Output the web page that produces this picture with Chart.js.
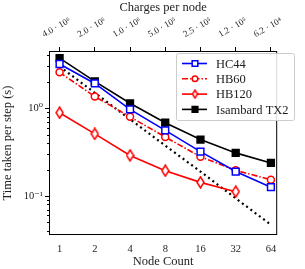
<!DOCTYPE html>
<html>
<head>
<script src="https://cdn.jsdelivr.net/npm/chart.js@4.4.1/dist/chart.umd.min.js"></script>
<style>
  html, body { margin: 0; padding: 0; background: #fff; }
  #wrap { width: 305px; height: 269px; }
</style>
</head>
<body>
<div id="wrap"><canvas id="chart" width="305" height="269"></canvas></div>
<script>
// node counts and top-axis labels
var nodes = [1, 2, 4, 8, 16, 32, 64];
var charges = ["4.0 \u00b7 10\u2076", "2.0 \u00b7 10\u2076", "1.0 \u00b7 10\u2076", "5.0 \u00b7 10\u2075",
               "2.5 \u00b7 10\u2075", "1.2 \u00b7 10\u2075", "6.2 \u00b7 10\u2074"];

// time per step (s)
var hc44     = [3.2, 1.92, 0.97, 0.56, 0.32, 0.19, 0.126];
var hb60     = [2.57, 1.36, 0.80, 0.47, 0.28, 0.196, 0.153];
var hb120    = [0.89, 0.51, 0.29, 0.194, 0.143, 0.112];
var isambard = [3.73, 2.03, 1.14, 0.685, 0.44, 0.31, 0.238];
var ideal    = [3.0, 1.5, 0.75, 0.375, 0.19, 0.094, 0.047];

var serif = "'Liberation Serif', 'DejaVu Serif', serif";

function pts(arr) {
  return arr.map(function (v, i) { return { x: nodes[i], y: v }; });
}

// thin diamond marker
function makeDiamond(w, h) {
  var cv = document.createElement('canvas');
  cv.width = w; cv.height = h;
  var c = cv.getContext('2d');
  c.beginPath();
  c.moveTo(w / 2, 1); c.lineTo(w - 1, h / 2); c.lineTo(w / 2, h - 1); c.lineTo(1, h / 2); c.closePath();
  c.fillStyle = '#fff'; c.fill();
  c.lineWidth = 1.5; c.strokeStyle = '#ff0000'; c.stroke();
  return cv;
}
var diamond = makeDiamond(9, 13);
var diamondSmall = makeDiamond(7, 10);

var series = [
  { label: 'HC44', data: pts(hc44), borderColor: '#0000ff', pointStyle: 'rect', pointRadius: 4.8, legR: 4, dash: [] },
  { label: 'HB60', data: pts(hb60), borderColor: '#ff0000', pointStyle: 'circle', pointRadius: 3.5, legR: 2.8, dash: [6, 2, 1.5, 2] },
  { label: 'HB120', data: pts(hb120), borderColor: '#ff0000', pointStyle: diamond, pointRadius: 4, legR: 3, legStyle: diamondSmall, dash: [] },
  { label: 'Isambard TX2', data: pts(isambard), borderColor: '#000000', pointStyle: 'rect', pointRadius: 4.8, legR: 4, dash: [], fill: '#000' }
];

var datasets = series.map(function (s) {
  return {
    label: s.label, data: s.data,
    borderColor: s.borderColor, borderWidth: 1.6, borderDash: s.dash,
    pointStyle: s.pointStyle, pointRadius: s.pointRadius, pointBorderWidth: 1.5,
    pointBackgroundColor: s.fill || '#ffffff', pointBorderColor: s.borderColor,
    tension: 0
  };
});
datasets.push({
  label: 'ideal', data: pts(ideal), borderColor: '#000', borderWidth: 2.2,
  borderDash: [2, 3.3], pointRadius: 0, tension: 0
});

var frame = {
  id: 'frame',
  afterDraw: function (chart) {
    var ctx = chart.ctx, a = chart.chartArea, y = chart.scales.y;
    ctx.save();
    ctx.strokeStyle = '#000';
    ctx.lineWidth = 1;
    ctx.strokeRect(a.left + 0.5, a.top + 0.5, a.right - a.left - 1, a.bottom - a.top - 1);
    // log minor ticks
    for (var e = -2; e <= 1; e++) {
      for (var m = 1; m <= 9; m++) {
        var v = m * Math.pow(10, e);
        if (v < y.min || v > y.max) continue;
        var py = Math.round(y.getPixelForValue(v)) + 0.5;
        var len = m === 1 ? 4 : 2;
        ctx.beginPath();
        ctx.moveTo(a.left - len, py); ctx.lineTo(a.left, py);
        ctx.stroke();
      }
    }
    // legend
    var lx = 176, ly = 53, lw = 118, lh = 67;
    ctx.fillStyle = 'rgba(255,255,255,0.85)';
    ctx.strokeStyle = '#cccccc';
    ctx.beginPath();
    ctx.roundRect(lx + 0.5, ly + 0.5, lw, lh, 2);
    ctx.fill(); ctx.stroke();
    ctx.font = '12.5px ' + serif;
    ctx.textBaseline = 'middle';
    chart.data.datasets.slice(0, 4).forEach(function (ds, i) {
      var ry = ly + 10.5 + i * 15.3;
      ctx.strokeStyle = ds.borderColor;
      ctx.lineWidth = ds.borderWidth;
      ctx.setLineDash(ds.borderDash);
      ctx.beginPath();
      ctx.moveTo(lx + 6, ry); ctx.lineTo(lx + 31, ry);
      ctx.stroke();
      ctx.setLineDash([]);
      ctx.fillStyle = ds.pointBackgroundColor;
      ctx.lineWidth = ds.pointBorderWidth;
      var s = series[i];
      Chart.helpers.drawPoint(ctx, { pointStyle: s.legStyle || s.pointStyle, radius: s.legR, rotation: 0, borderWidth: ds.pointBorderWidth }, lx + 19, ry);
      ctx.fillStyle = '#222';
      ctx.fillText(ds.label, lx + 40, ry + 1);
    });
    ctx.restore();
  }
};

function fixTicks(scale) {
  scale.ticks = nodes.map(function (n) { return { value: n }; });
}

new Chart(document.getElementById('chart'), {
  type: 'line',
  data: { datasets: datasets },
  options: {
    responsive: false,
    animation: false,
    layout: { padding: 0 },
    plugins: { legend: { display: false }, tooltip: { enabled: false } },
    scales: {
      x: {
        type: 'logarithmic', position: 'bottom', min: 0.812, max: 72.4,
        afterBuildTicks: fixTicks,
        afterFit: function (s) { s.height = 34; },
        grid: { drawOnChartArea: false, drawTicks: false },
        border: { display: false },
        ticks: { color: '#222', font: { family: serif, size: 10.5 }, padding: 8, maxRotation: 0,
                 callback: function (v) { return String(v); } },
        title: { display: true, text: 'Node Count', color: '#222', font: { family: serif, size: 12.5 }, padding: 0 }
      },
      x2: {
        type: 'logarithmic', axis: 'x', position: 'top', min: 0.812, max: 72.4,
        afterBuildTicks: fixTicks,
        afterFit: function (s) { s.height = 51; },
        grid: { drawOnChartArea: false, drawTicks: true, tickLength: 4, color: '#000', lineWidth: 1 },
        border: { display: false },
        ticks: { color: '#222', font: { family: serif, size: 9 }, padding: 7,
                 minRotation: 30, maxRotation: 30, labelOffset: -11,
                 callback: function (v, i) { return charges[i]; } },
        title: { display: true, text: 'Charges per node', color: '#222', font: { family: serif, size: 12.5 }, padding: 0 }
      },
      y: {
        type: 'logarithmic', position: 'left', min: 0.0359, max: 4.5,
        afterBuildTicks: function (s) { s.ticks = [{ value: 0.1 }, { value: 1 }]; },
        afterFit: function (s) { s.width = 49; },
        grid: { drawOnChartArea: false, drawTicks: false },
        border: { display: false },
        ticks: { color: '#222', font: { family: serif, size: 10.5 }, padding: 6,
                 callback: function (v) { return v === 1 ? '10\u2070' : '10\u207b\u00b9'; } },
        title: { display: true, text: 'Time taken per step (s)', color: '#222', font: { family: serif, size: 12.5 }, padding: 0 }
      },
      y2: {
        type: 'logarithmic', position: 'right', min: 0.0359, max: 4.5,
        afterFit: function (s) { s.width = 12; },
        grid: { display: false }, border: { display: false },
        ticks: { display: false }
      }
    }
  },
  plugins: [frame]
});
</script>
</body>
</html>
